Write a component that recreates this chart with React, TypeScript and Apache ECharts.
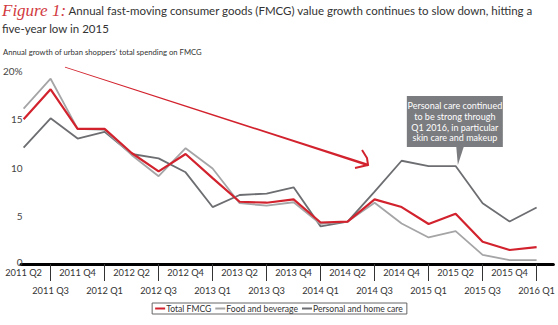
import React, { useEffect, useRef } from 'react';
import * as echarts from 'echarts';

const quarters = ['2011 Q2', '2011 Q3', '2011 Q4', '2012 Q1', '2012 Q2', '2012 Q3', '2012 Q4', '2013 Q1', '2013 Q2', '2013 Q3', '2013 Q4', '2014 Q1', '2014 Q2', '2014 Q3', '2014 Q4', '2015 Q1', '2015 Q2', '2015 Q3', '2015 Q4', '2016 Q1'];
const totalFMCG = [15.0, 18.1, 14.0, 14.0, 11.5, 9.6, 11.4, 8.9, 6.45, 6.35, 6.7, 4.3, 4.4, 6.7, 5.9, 4.15, 5.2, 2.3, 1.45, 1.75];
const foodBeverage = [16.1, 19.2, 14.0, 13.9, 11.3, 9.1, 12.0, 9.9, 6.3, 6.05, 6.4, 4.15, 4.4, 6.35, 4.2, 2.75, 3.4, 0.95, 0.4, 0.4];
const personalHome = [12.05, 15.1, 13.0, 13.7, 11.4, 10.95, 9.5, 5.9, 7.15, 7.3, 7.95, 3.9, 4.4, 7.5, 10.7, 10.15, 10.15, 6.3, 4.4, 5.85];
const seriesNames = ['Total FMCG', 'Food and beverage', 'Personal and home care'];
const yTicks = [0, 5, 10, 15, 20];

const calloutLines = ['Personal care continued', 'to be strong through', 'Q1 2016, in particular', 'skin care and makeup'];
const arrowStart = [1.61, 20.4];
const arrowEnd = [12.71, 10.26];
const calloutPoint = [16, 10.15];
const axisExtent = 19.5;

const RED = '#d2222d';
const LIGHT = '#a5a5a7';
const DARK = '#6d6e71';
const FONT = 'Lato, "Open Sans", sans-serif';

const W = 558;
const GL = 21;
const GR1 = 4.6;
const unit = (W - GL - GR1) / axisExtent;
const GR0 = W - GL - unit * (quarters.length - 1);

export default function App() {
  const ref = useRef<HTMLDivElement>(null);
  useEffect(() => {
    if (!ref.current) return;
    const chart = echarts.init(ref.current, undefined, { renderer: 'svg' });
    chart.setOption({
      animation: false,
      textStyle: { fontFamily: FONT },
      title: [
        {
          left: 2,
          top: 1,
          padding: 0,
          text: '{f|Figure 1:} Annual fast-moving consumer goods (FMCG) value growth continues to slow down, hitting a\nfive-year low in 2015',
          textStyle: {
            fontFamily: FONT,
            fontSize: 11.5,
            fontWeight: 'normal',
            color: '#333',
            lineHeight: 18,
            rich: {
              f: { fontFamily: '"Liberation Serif", serif', fontStyle: 'italic', fontSize: 17, color: '#d23a3f', lineHeight: 18 },
            },
          },
        },
        {
          left: 3,
          top: 48,
          padding: 0,
          text: 'Annual growth of urban shoppers\u2019 total spending on FMCG',
          textStyle: { fontFamily: FONT, fontSize: 7.7, fontWeight: 'normal', color: '#333' },
        },
      ],
      legend: {
        data: seriesNames,
        left: 'center',
        top: 303,
        icon: 'rect',
        itemWidth: 10,
        itemHeight: 2,
        itemGap: 4,
        borderColor: '#666',
        borderWidth: 1,
        padding: [1, 4, 1, 3],
        textStyle: { fontFamily: FONT, fontSize: 8.6, color: '#333', padding: [0, 0, 0, -4] },
      },
      grid: [
        { left: GL, right: GR0, top: 71, bottom: 61 },
        { left: GL, right: GR1, top: 71, bottom: 61 },
      ],
      xAxis: [
        {
          type: 'category',
          gridIndex: 0,
          data: quarters,
          boundaryGap: false,
          axisLine: { show: false },
          axisTick: { show: true, interval: (i: number) => i % 2 === 1, length: 17, lineStyle: { color: '#333', width: 1 } },
          axisLabel: {
            interval: 0,
            margin: 0,
            fontFamily: FONT,
            fontSize: 9.3,
            color: '#333',
            lineHeight: 17.5,
            formatter: (v: string, i: number) => (i % 2 === 1 ? '\n' + v : v),
          },
        },
        {
          type: 'value',
          gridIndex: 1,
          min: 0,
          max: axisExtent,
          axisLine: { show: true, lineStyle: { color: '#000', width: 3 } },
          axisTick: { show: false },
          axisLabel: { show: false },
          splitLine: { show: false },
        },
      ],
      yAxis: [
        {
          type: 'value',
          gridIndex: 0,
          min: 0,
          max: 20,
          interval: 5,
          splitLine: { show: false },
          axisLine: { show: false },
          axisTick: { show: false },
          axisLabel: {
            margin: 1,
            fontFamily: FONT,
            fontSize: 10,
            color: '#444',
            formatter: (v: number) =>
              v === yTicks[yTicks.length - 1] ? v + '%' : v === yTicks[0] ? '{z|' + v + '}' : String(v),
            rich: { z: { fontFamily: FONT, fontSize: 10, color: '#444', padding: [0, 0, 5, 0] } },
          },
        },
        {
          type: 'value',
          gridIndex: 1,
          min: 0,
          max: 20,
          show: false,
        },
      ],
      series: [
        { name: seriesNames[2], type: 'line', data: personalHome, symbol: 'none', lineStyle: { color: DARK, width: 1.8 }, itemStyle: { color: DARK } },
        { name: seriesNames[1], type: 'line', data: foodBeverage, symbol: 'none', lineStyle: { color: LIGHT, width: 1.8 }, itemStyle: { color: LIGHT } },
        { name: seriesNames[0], type: 'line', data: totalFMCG, symbol: 'none', lineStyle: { color: RED, width: 2.2 }, itemStyle: { color: RED } },
      ],
    });

    const s = chart.convertToPixel({ gridIndex: 1 }, arrowStart) as number[];
    const e = chart.convertToPixel({ gridIndex: 1 }, arrowEnd) as number[];
    const dx = e[0] - s[0];
    const dy = e[1] - s[1];
    const len = Math.hypot(dx, dy);
    const nx = -dy / len;
    const ny = dx / len;
    const w0 = 0.3;
    const w1 = 1.2;
    const c = chart.convertToPixel({ gridIndex: 1 }, calloutPoint) as number[];
    const boxL = c[0] - 51;
    const boxT = c[1] - 70;
    const boxW = 96;
    const boxH = 51;

    chart.setOption({
      graphic: [
        {
          type: 'polygon',
          shape: {
            points: [
              [s[0] + nx * w0, s[1] + ny * w0],
              [e[0] + nx * w1, e[1] + ny * w1],
              [e[0] - nx * w1, e[1] - ny * w1],
              [s[0] - nx * w0, s[1] - ny * w0],
            ],
          },
          style: { fill: RED },
        },
        {
          type: 'polyline',
          shape: { points: [[e[0] - 6, e[1] - 15], [e[0] - 1, e[1] - 7], [e[0], e[1]], [e[0] - 13, e[1] + 3]] },
          style: { stroke: RED, lineWidth: 2, fill: 'none' },
        },
        {
          type: 'rect',
          shape: { x: boxL, y: boxT, width: boxW, height: boxH },
          style: { fill: '#7b7c7f' },
        },
        {
          type: 'polygon',
          shape: { points: [[c[0] - 1.6, boxT + boxH - 0.5], [c[0] + 6, boxT + boxH - 0.5], [c[0], c[1] - 1]] },
          style: { fill: '#7b7c7f' },
        },
        {
          type: 'text',
          x: boxL + boxW / 2,
          y: boxT + 4,
          style: {
            text: calloutLines.join('\n'),
            fill: '#fff',
            fontFamily: FONT,
            fontSize: 9,
            lineHeight: 10.8,
            align: 'center',
            verticalAlign: 'top',
          },
        },
      ],
    });
    return () => chart.dispose();
  }, []);
  return <div ref={ref} style={{ position: 'absolute', left: 0, top: 0, width: 558, height: 325 }} />;
}
